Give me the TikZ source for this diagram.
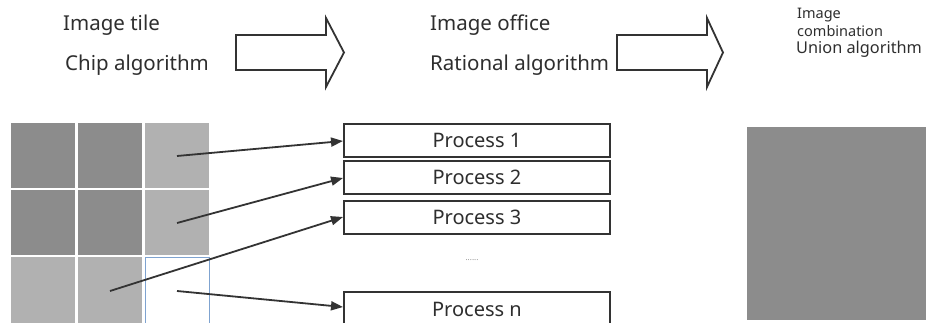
\documentclass[tikz,border=0pt]{standalone}
\usepackage{fontspec}
\setmainfont{Noto Sans}
\usetikzlibrary{arrows.meta}
\definecolor{darkcell}{HTML}{8C8C8C}
\definecolor{lightcell}{HTML}{B1B1B1}
\definecolor{tileblue}{HTML}{7FA3D0}
\definecolor{lineclr}{HTML}{333333}
\definecolor{txtclr}{HTML}{2E2E2E}
\begin{document}
\begin{tikzpicture}[x=1pt,y=-1pt,
  cell/.style={draw=none,inner sep=0pt,minimum width=64pt,minimum height=65pt,anchor=north west},
  procbox/.style={draw=lineclr,line width=1.8pt,fill=white,inner sep=0pt,minimum width=266pt,minimum height=33pt,anchor=north west,font=\fontsize{20}{22}\selectfont,text=txtclr},
  conn/.style={draw=lineclr,line width=1.8pt,-{Triangle[length=12pt,width=9pt]}},
  blockarrow/.style={draw=lineclr,line width=1.8pt,fill=white,line join=miter},
  lbl/.style={anchor=west,inner sep=0pt,text=txtclr,font=\fontsize{20.5}{23}\selectfont}]
\useasboundingbox (0,0) rectangle (926,323);
\fill[white] (0,0) rectangle (926,323);
% top labels
\node[lbl] (t1) at (63,25) {Image tile};
\node[lbl] (t2) at (65,65) {Chip algorithm};
\node[lbl] (t3) at (430,25) {Image office};
\node[lbl] (t4) at (430,65) {Rational algorithm};
\node[lbl,font=\fontsize{14.5}{16}\selectfont] (t5) at (797,15) {Image};
\node[lbl,font=\fontsize{14.5}{16}\selectfont] (t6) at (797,31) {combination};
\node[lbl,font=\fontsize{16.3}{18}\selectfont] (t7) at (796,49) {Union algorithm};
% block arrows
\draw[blockarrow] (236,35) -- (326,35) -- (326,18) -- (344,52.5) -- (326,87) -- (326,70) -- (236,70) -- cycle;
\draw[blockarrow] (617,35) -- (707,35) -- (707,18) -- (723,52.5) -- (707,87) -- (707,70) -- (617,70) -- cycle;
% grid
\node[cell,fill=darkcell] (c11) at (11,123) {};
\node[cell,fill=darkcell] (c12) at (78,123) {};
\node[cell,fill=lightcell] (c13) at (145,123) {};
\node[cell,fill=darkcell] (c21) at (11,190) {};
\node[cell,fill=darkcell] (c22) at (78,190) {};
\node[cell,fill=lightcell] (c23) at (145,190) {};
\node[cell,fill=lightcell,minimum height=70pt] (c31) at (11,257) {};
\node[cell,fill=lightcell,minimum height=70pt] (c32) at (78,257) {};
\node[cell,minimum height=70pt] (c33) at (145,257) {};
\draw[tileblue,line width=1pt] (c33.south west) -- (c33.north west) -- (c33.north east) -- (c33.south east);
% source points
\coordinate (s1) at (177,156);
\coordinate (s2) at (177,223);
\coordinate (s3) at (110,291);
\coordinate (s4) at (177,291);
% process boxes
\node[procbox] (p1) at (343,123) {Process 1};
\node[procbox] (p2) at (343,160) {Process 2};
\node[procbox] (p3) at (343,200) {Process 3};
\node[procbox,minimum height=36pt] (pn) at (343,291) {Process n};
\node[inner sep=0pt,text=black!45,font=\fontsize{8}{9}\selectfont] (dots) at (472,260) {......};
% connectors
\draw[conn] (s1) -- (p1.west |- 0,141);
\draw[conn] (s2) -- (p2.west |- 0,178);
\draw[conn] (s3) -- (p3.west |- 0,217);
\draw[conn] (s4) -- (pn.west |- 0,307);
% result square
\node[fill=darkcell,inner sep=0pt,minimum width=190pt,minimum height=193pt,anchor=north west] (res) at (747,127) {};
\end{tikzpicture}
\end{document}
